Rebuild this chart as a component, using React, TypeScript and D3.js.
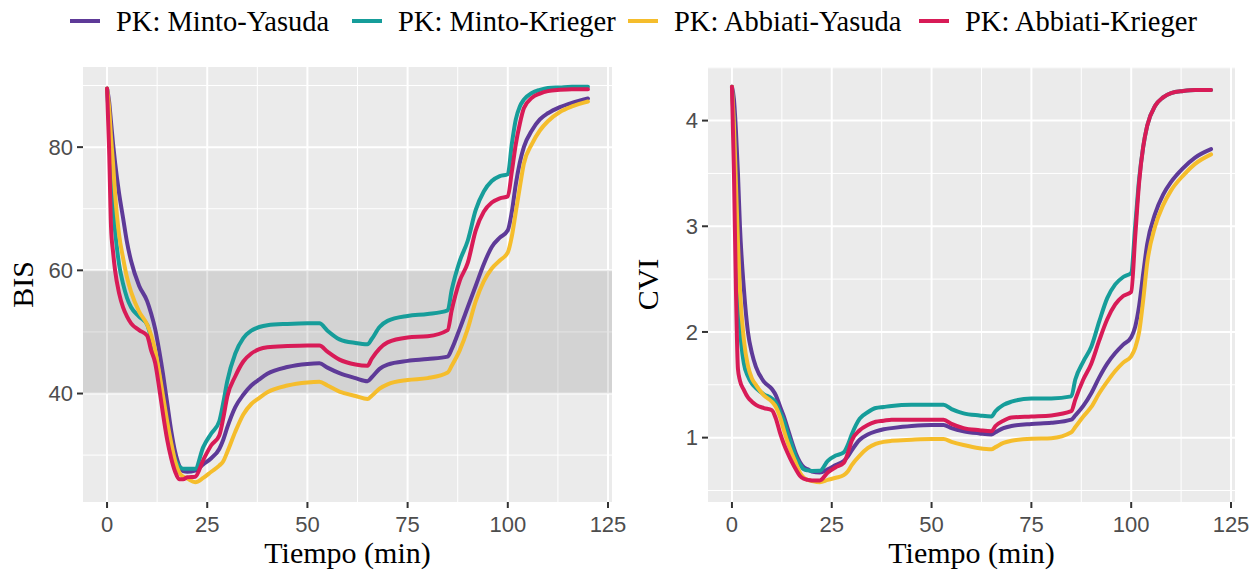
import React from "react";
import * as d3 from "d3";

const TIME = [0,0.5,1,1.5,2,3,4,5,6,8,10,11,12,13,14,15,16,17,18,19,20,22,24,26,28,29,30,32,34,36,38,40,45,50,53,55,58,62,65,66,68,70,75,80,85,86,88,90,92,94,96,98,100,101,102,103,104,106,108,110,113,116,120];

const SERIES = ["PK: Minto-Yasuda", "PK: Minto-Krieger", "PK: Abbiati-Yasuda", "PK: Abbiati-Krieger"];
const COLORS = ["#5e3a98", "#169d9a", "#f5bd2c", "#d81b57"];

const BIS_MY = [89.5,87.5,84,80.5,77.5, 72.5,68.5,64.5,61.5,57.5, 55,53,50.5,47,43, 38.5,34,30.5,28.3,27.4, 27.3,27.5,28.5,29.5,31, 32.5,34.5,37.8,39.8,41.3, 42.3,43.2,44.3,44.8,44.9, 44.2,43.3,42.5,42.0,42.6, 44.0,44.7,45.3,45.6,46.0, 47.2,50.5,54,57.5,61, 63.8,65.3,66.5,69.5,74, 77.5,80,82.7,84.5,85.5, 86.5,87.2,87.9];
const BIS_MK = [89.5,84,75,70.5,66.5, 61,57.8,55.5,54,52.5, 51.2,49,46,42,38, 34.5,31.5,29.3,28.2,27.8, 27.8,27.8,31.3,33.5,35.5, 38.5,42,46.5,49,50.2, 50.8,51.1,51.3,51.4,51.4, 50.2,48.8,48.2,48.0,48.8, 50.8,51.8,52.6,52.9,53.5, 56.8,61.5,64.8,69.8,72.8, 74.5,75.3,75.6,80.5,84.5, 86.6,87.7,88.8,89.3,89.6, 89.7,89.8,89.8];
const BIS_AY = [89.5,86.5,81.5,77.3,72.5, 65.8,62,58.8,56.5,53.3, 51.2,49.5,47,43.5,39.5, 35.5,32,29,27.2,26.5, 26.2,25.6,26.3,27.3,28.3, 29.0,30.5,33.8,36.6,38.3, 39.3,40.2,41.3,41.8,41.9, 41.3,40.3,39.6,39.1,39.6, 40.8,41.5,42.2,42.5,43.4, 44.5,47.0,50.5,55,58.2, 60.3,61.6,62.9,65.5,69.5, 73.5,77.3,80.5,82.7,84.2, 85.7,86.6,87.4];
const BIS_AK = [89.5,80,67,63,60, 56.3,54,52.5,51.4,50.3, 49.4,47,45,41,36.5, 32.5,29.5,27.3,26.1,26.1, 26.4,26.5,29.2,31.6,33.2, 36,39.5,42.8,45.2,46.5, 47.2,47.5,47.7,47.8,47.8, 46.8,45.5,44.7,44.5,45.6, 47.3,48.3,49.1,49.3,50.3, 53.5,58.3,61.2,66.5,69.5, 71.0,71.7,72.0,76,80.5, 83.8,86.3,88,88.7,89.1, 89.3,89.4,89.4];

const CVI_MY = [4.32,4.2,3.9,3.5,3.0, 2.4,2.0,1.8,1.67,1.53, 1.46,1.4,1.3,1.2,1.08, 0.96,0.85,0.77,0.72,0.7, 0.68,0.67,0.7,0.74,0.78, 0.82,0.88,0.98,1.03,1.06, 1.08,1.09,1.11,1.12,1.12, 1.09,1.06,1.04,1.03,1.05, 1.09,1.11,1.13,1.14,1.17, 1.21,1.3,1.42,1.57,1.7, 1.8,1.88,1.95,2.05,2.25, 2.55,2.83,3.12,3.3,3.42, 3.55,3.65,3.73];
const CVI_MK = [4.32,3.9,3.1,2.45,2.05, 1.7,1.58,1.51,1.47,1.41, 1.37,1.33,1.25,1.16,1.04, 0.93,0.82,0.75,0.7,0.69, 0.685,0.686,0.78,0.83,0.86, 0.93,1.03,1.18,1.24,1.28, 1.29,1.3,1.31,1.31,1.31, 1.27,1.23,1.21,1.2,1.25, 1.31,1.34,1.37,1.37,1.39, 1.55,1.72,1.86,2.1,2.32, 2.45,2.52,2.56,3.0,3.45, 3.75,3.95,4.14,4.22,4.26, 4.28,4.29,4.29];
const CVI_AY = [4.32,3.95,3.4,2.85,2.4, 1.92,1.68,1.56,1.5,1.4, 1.34,1.29,1.2,1.07,0.95, 0.85,0.76,0.67,0.62,0.6, 0.59,0.578,0.6,0.62,0.645, 0.68,0.74,0.83,0.9,0.94, 0.96,0.97,0.98,0.986,0.986, 0.96,0.93,0.9,0.89,0.91, 0.95,0.97,0.99,0.995,1.05, 1.1,1.2,1.29,1.42,1.53, 1.63,1.71,1.77,1.85,2.0, 2.3,2.65,3.0,3.2,3.34, 3.48,3.59,3.68];
const CVI_AK = [4.32,3.5,2.4,1.65,1.54, 1.45,1.38,1.34,1.31,1.28, 1.26,1.18,1.05,0.94,0.85, 0.77,0.7,0.64,0.61,0.6, 0.595,0.595,0.67,0.72,0.76, 0.85,0.97,1.07,1.12,1.15, 1.16,1.17,1.17,1.17,1.17, 1.13,1.09,1.07,1.06,1.11, 1.16,1.19,1.2,1.21,1.25, 1.36,1.55,1.7,1.92,2.12, 2.26,2.34,2.38,2.9,3.42, 3.75,3.95,4.14,4.22,4.26, 4.28,4.29,4.29];

const X_TICKS = [0, 25, 50, 75, 100, 125];
const X_MINOR = [12.5, 37.5, 62.5, 87.5, 112.5];
const BIS_TICKS = [40, 60, 80];
const BIS_MINOR = [30, 50, 70, 90];
const CVI_TICKS = [1, 2, 3, 4];
const CVI_MINOR = [0.5, 1.5, 2.5, 3.5, 4.5];
const BIS_BAND = [40, 60];

const SERIF = "'Liberation Serif', 'DejaVu Serif', serif";
const SANS = "'Liberation Sans', Arial, sans-serif";

function expand(ext: [number, number]): [number, number] {
  const r = ext[1] - ext[0];
  return [ext[0] - r * 0.05, ext[1] + r * 0.05];
}

type PanelProps = {
  left: number; right: number; top: number; bottom: number;
  series: number[][]; ticks: number[]; minor: number[]; title: string; titleX: number;
  band?: number[];
};

function Panel(p: PanelProps) {
  const all = p.series.flat();
  const x = d3.scaleLinear().domain(expand([d3.min(TIME)!, d3.max(TIME)!])).range([p.left, p.right]);
  const y = d3.scaleLinear().domain(expand([d3.min(all)!, d3.max(all)!])).range([p.bottom, p.top]);
  const line = d3.line<number>().x((_, i) => x(TIME[i])).y((d) => y(d)).curve(d3.curveMonotoneX);
  const midX = (p.left + p.right) / 2;
  const midY = (p.top + p.bottom) / 2;
  return (
    <g>
      <rect x={p.left} y={p.top} width={p.right - p.left} height={p.bottom - p.top} fill="#ebebeb" />
      {p.minor.map((v) => (
        <line key={"ym" + v} x1={p.left} x2={p.right} y1={y(v)} y2={y(v)} stroke="#fff" strokeWidth={1} />
      ))}
      {X_MINOR.map((v) => (
        <line key={"xm" + v} x1={x(v)} x2={x(v)} y1={p.top} y2={p.bottom} stroke="#fff" strokeWidth={1} />
      ))}
      {p.ticks.map((v) => (
        <line key={"yg" + v} x1={p.left} x2={p.right} y1={y(v)} y2={y(v)} stroke="#fff" strokeWidth={2} />
      ))}
      {X_TICKS.map((v) => (
        <line key={"xg" + v} x1={x(v)} x2={x(v)} y1={p.top} y2={p.bottom} stroke="#fff" strokeWidth={2} />
      ))}
      {p.band && (
        <rect x={p.left} width={p.right - p.left} y={y(p.band[1])} height={y(p.band[0]) - y(p.band[1])} fill="#000" fillOpacity={0.1} />
      )}
      {p.series.map((s, i) => (
        <path key={i} d={line(s) || ""} fill="none" stroke={COLORS[i]} strokeWidth={4} strokeLinejoin="round" strokeLinecap="round" />
      ))}
      {p.ticks.map((v) => (
        <g key={"yt" + v}>
          <line x1={p.left - 6} x2={p.left} y1={y(v)} y2={y(v)} stroke="#333" strokeWidth={2} />
          <text x={p.left - 10} y={y(v)} dy="0.35em" textAnchor="end" fontFamily={SANS} fontSize={22} fill="#4d4d4d">{v}</text>
        </g>
      ))}
      {X_TICKS.map((v) => (
        <g key={"xt" + v}>
          <line x1={x(v)} x2={x(v)} y1={p.bottom} y2={p.bottom + 6} stroke="#333" strokeWidth={2} />
          <text x={x(v)} y={p.bottom + 30} textAnchor="middle" fontFamily={SANS} fontSize={22} fill="#4d4d4d">{v}</text>
        </g>
      ))}
      <text x={midX} y={563} textAnchor="middle" fontFamily={SERIF} fontSize={30} fill="#000">Tiempo (min)</text>
      <text transform={`translate(${p.titleX},${midY}) rotate(-90)`} textAnchor="middle" fontFamily={SERIF} fontSize={30} fill="#000">{p.title}</text>
    </g>
  );
}

const LEGEND_X = [116, 398, 674, 965];

export default function App() {
  return (
    <svg width={1260} height={570} style={{ position: "absolute", left: 0, top: 0, background: "#fff" }}>
      {SERIES.map((name, i) => (
        <g key={name}>
          <line x1={LEGEND_X[i] - 46} x2={LEGEND_X[i] - 16} y1={21} y2={21} stroke={COLORS[i]} strokeWidth={4} />
          <text x={LEGEND_X[i]} y={31} fontFamily={SERIF} fontSize={28.5} fill="#000">{name}</text>
        </g>
      ))}
      <Panel left={83} right={612} top={67} bottom={502} series={[BIS_MY, BIS_MK, BIS_AY, BIS_AK]} ticks={BIS_TICKS} minor={BIS_MINOR} title="BIS" titleX={33} band={BIS_BAND} />
      <Panel left={708} right={1235} top={67} bottom={502} series={[CVI_MY, CVI_MK, CVI_AY, CVI_AK]} ticks={CVI_TICKS} minor={CVI_MINOR} title="CVI" titleX={658} />
    </svg>
  );
}
